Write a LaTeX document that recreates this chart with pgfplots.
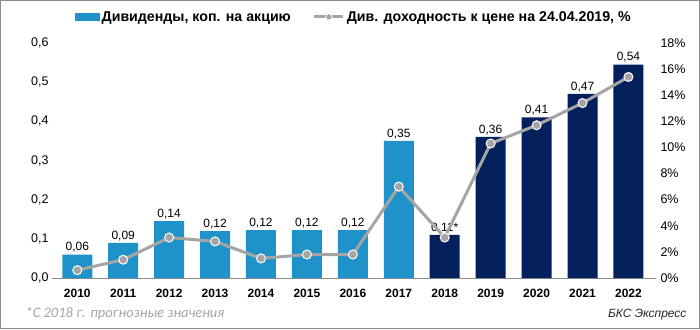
\documentclass[border=0pt]{standalone}
\usepackage{fontspec}
\setmainfont{Liberation Sans}
\newfontfamily\carlito{Carlito}
\usepackage{pgfplots}
\pgfplotsset{compat=1.18}
\definecolor{barblue}{HTML}{1F93C9}
\definecolor{barnavy}{HTML}{03205C}
\definecolor{linegray}{HTML}{A5A5A5}
\definecolor{axgray}{HTML}{8C8C8C}
\begin{document}
\begin{tikzpicture}
\useasboundingbox (0,0) rectangle (700pt,329pt);
\fill[white] (0,0) rectangle (700pt,329pt);
\draw[axgray, line width=1pt] (0.5pt,0.5pt) rectangle (699.5pt,328.5pt);
\begin{axis}[
  at={(52pt,51pt)}, anchor=south west,
  scale only axis, width=604pt, height=235pt,
  xmin=-0.55, xmax=12.6, ymin=0, ymax=0.6,
  axis x line*=bottom, axis y line*=left,
  y axis line style={draw=none},
  x axis line style={axgray, line width=1pt, -},
  xtick={0,...,12},
  xticklabels={2010,2011,2012,2013,2014,2015,2016,2017,2018,2019,2020,2021,2022},
  xticklabel style={font=\fontsize{12}{14}\selectfont\bfseries, yshift=-3pt},
  ytick={0,0.1,...,0.6},
  yticklabel style={font=\fontsize{12.5}{14}\selectfont, /pgf/number format/.cd, fixed, fixed zerofill, precision=1, use comma, assume math mode=true},
  major tick style={draw=none},
  ybar, bar width=30pt,
  nodes near coords, point meta=explicit symbolic,
  nodes near coords style={font=\fontsize{12}{14}\selectfont, inner sep=2pt},
  clip=false,
]
\addplot[fill=barblue, draw=none, bar shift=0pt] coordinates {
  (0,0.06) [0,06]
  (1,0.09) [0,09]
  (2,0.145) [0,14]
  (3,0.12) [0,12]
  (4,0.122) [0,12]
  (5,0.122) [0,12]
  (6,0.122) [0,12]
  (7,0.35) [0,35]
};
\addplot[fill=barnavy, draw=none, bar shift=0pt] coordinates {
  (8,0.11) [0,11*]
  (9,0.36) [0,36]
  (10,0.41) [0,41]
  (11,0.47) [0,47]
  (12,0.545) [0,54]
};
\end{axis}
\begin{axis}[
  at={(52pt,51pt)}, anchor=south west,
  scale only axis, width=604pt, height=235pt,
  xmin=-0.55, xmax=12.6, ymin=0, ymax=18,
  axis y line*=right, axis x line=none,
  y axis line style={draw=none},
  ytick={0,2,...,18},
  yticklabel={\pgfmathprintnumber{\tick}\%},
  yticklabel style={font=\fontsize{12.5}{14}\selectfont, /pgf/number format/assume math mode=true, xshift=1pt},
  major tick style={draw=none},
  clip=false,
  legend style={at={(0.5,1.111)}, anchor=center, draw=none, fill=none,
    font=\fontsize{14.2}{16}\selectfont\bfseries, legend columns=2,
    /tikz/every even column/.append style={column sep=20pt},
    inner sep=0pt, cells={anchor=west}},
]
\addlegendimage{legend image code/.code={\fill[barblue] (2pt,-3.5pt) rectangle (26pt,3.5pt);}}
\addlegendentry{Дивиденды, коп. на акцию}
\addlegendimage{legend image code/.code={\draw[linegray, line width=3pt] (0pt,0pt) -- (29pt,0pt); \fill[linegray, draw=white, line width=0.8pt] (14.5pt,0pt) circle (3.2pt);}}
\addlegendentry{Див. доходность к цене на 24.04.2019, \%}
\addplot[linegray, line width=3pt, mark=*, mark size=4.5pt,
  mark options={fill=linegray, draw=white, line width=1pt}, forget plot] coordinates {
  (0,0.6) (1,1.4) (2,3.1) (3,2.8) (4,1.5) (5,1.8) (6,1.8)
  (7,7.0) (8,3.1) (9,10.3) (10,11.7) (11,13.4) (12,15.4)
};
\end{axis}
\node[anchor=west, text=linegray, font=\carlito\itshape\fontsize{14.5}{16}\selectfont] at (22pt,15pt) {*С 2018 г. прогнозные значения};
\node[anchor=east, text=black!85, font=\itshape\fontsize{12}{14}\selectfont] at (690pt,14pt) {БКС Экспресс};
\end{tikzpicture}
\end{document}
